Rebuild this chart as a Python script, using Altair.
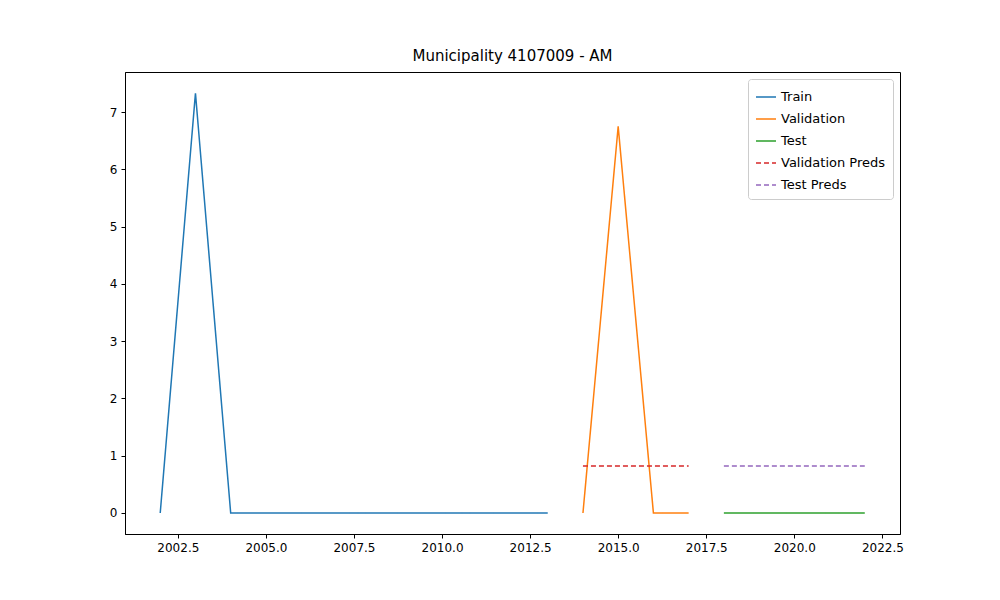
import altair as alt
import pandas as pd

# Valores
train_years = list(range(2002, 2014))
train_vals = [0, 7.33, 0, 0, 0, 0, 0, 0, 0, 0, 0, 0]
val_years = [2014, 2015, 2016, 2017]
val_vals = [0, 6.75, 0, 0]
test_years = [2018, 2019, 2020, 2021, 2022]
test_vals = [0, 0, 0, 0, 0]
val_pred_vals = [0.82, 0.82, 0.82, 0.82]
test_pred_vals = [0.82, 0.82, 0.82, 0.82, 0.82]

series = ["Train", "Validation", "Test", "Validation Preds", "Test Preds"]
colors = ["#1f77b4", "#ff7f0e", "#2ca02c", "#d62728", "#9467bd"]
dashes = [[1, 0], [1, 0], [1, 0], [5, 3], [5, 3]]

rows = []
for name, xs, ys in [
    ("Train", train_years, train_vals),
    ("Validation", val_years, val_vals),
    ("Test", test_years, test_vals),
    ("Validation Preds", val_years, val_pred_vals),
    ("Test Preds", test_years, test_pred_vals),
]:
    rows += [{"year": x, "value": y, "series": name} for x, y in zip(xs, ys)]
df = pd.DataFrame(rows)

legend = alt.Legend(title=None, orient="top-right", symbolType="stroke",
                    symbolStrokeWidth=1.5, symbolSize=400, labelFontSize=13,
                    strokeColor="#cccccc", fillColor="white", padding=7,
                    cornerRadius=3, offset=7, rowPadding=4)

chart = alt.Chart(df).mark_line(strokeWidth=1.5).encode(
    x=alt.X("year:Q", title=None, scale=alt.Scale(domain=[2001, 2023], nice=False, zero=False),
            axis=alt.Axis(values=[2002.5 + 2.5 * i for i in range(9)], format=".1f")),
    y=alt.Y("value:Q", title=None, scale=alt.Scale(domain=[-0.367, 7.7], nice=False),
            axis=alt.Axis(values=list(range(8)), format="d")),
    color=alt.Color("series:N", scale=alt.Scale(domain=series, range=colors), legend=legend),
    strokeDash=alt.StrokeDash("series:N", scale=alt.Scale(domain=series, range=dashes), legend=legend),
    order="year:Q",
).properties(
    width=775, height=462,
    title=alt.Title("Municipality 4107009 - AM", fontSize=15, fontWeight="normal", font="DejaVu Sans", offset=8),
    autosize="none",
    padding={"left": 117, "top": 64, "right": 92, "bottom": 58},
).configure_axis(
    grid=False, domainColor="black", tickColor="black", labelColor="black",
    labelFontSize=12, labelFont="DejaVu Sans", tickSize=4, labelPadding=4,
).configure_legend(labelFont="DejaVu Sans").configure_view(stroke="black")

chart.save("out.html", embed_options={"renderer": "svg", "actions": False})
